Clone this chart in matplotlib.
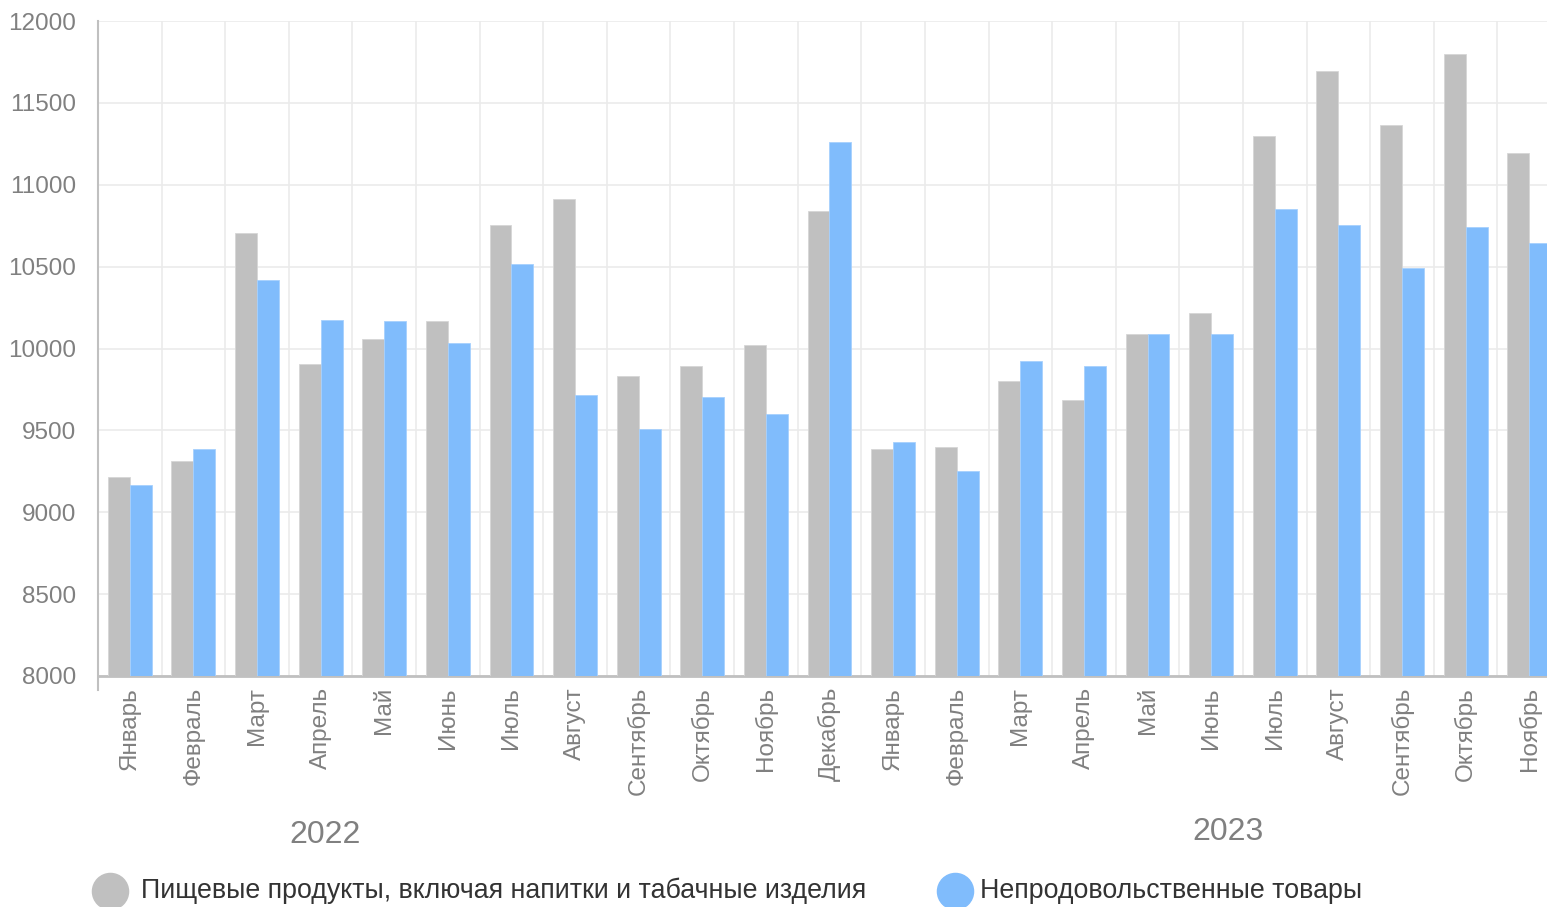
import numpy as np
import matplotlib.pyplot as plt
from matplotlib.lines import Line2D

plt.rcParams['font.family'] = ['Liberation Sans', 'DejaVu Sans']

# Data
months = ['Январь', 'Февраль', 'Март', 'Апрель', 'Май', 'Июнь', 'Июль',
          'Август', 'Сентябрь', 'Октябрь', 'Ноябрь', 'Декабрь',
          'Январь', 'Февраль', 'Март', 'Апрель', 'Май', 'Июнь', 'Июль',
          'Август', 'Сентябрь', 'Октябрь', 'Ноябрь']
years = ['2022', '2023']
food = [9215, 9313, 10705, 9905, 10058, 10168, 10754, 10913, 9832, 9893,
        10021, 10840,
        9386, 9398, 9802, 9686, 10089, 10217, 11298, 11695, 11365, 11798,
        11194]
nonfood = [9166, 9386, 10418, 10174, 10168, 10034, 10516, 9716, 9508, 9704,
           9600, 11261,
           9429, 9252, 9924, 9893, 10089, 10089, 10852, 10754, 10492, 10742,
           10644]
series_names = ['Пищевые продукты, включая напитки и табачные изделия',
                'Непродовольственные товары']

GREY = '#c0c0c0'
BLUE = '#80bcfc'
TICK = '#808080'

fig = plt.figure(figsize=(15.47, 9.07), dpi=100)
ax = fig.add_axes([98 / 1547, 1 - 676 / 907, 1 - 98 / 1547, (676 - 21) / 907])

x = np.arange(len(months))
w = 0.345
ax.bar(x - w / 2, np.array(food) - 8000, w, bottom=8000, color=GREY,
       edgecolor='#d6d6d6', linewidth=0.6, zorder=3)
ax.bar(x + w / 2, np.array(nonfood) - 8000, w, bottom=8000, color=BLUE,
       edgecolor='#a6d0fd', linewidth=0.6, zorder=3)

ax.set_yticks(np.arange(8000, 12001, 500))
ax.set_xticks(x)
ax.set_xticklabels(months, rotation=90, va='top', ha='center')
ax.set_xticks(np.arange(0.5, len(months), 1), minor=True)
# limits after the ticks, so set_xticks does not widen the view
ax.set_ylim(8000, 12000)
ax.set_xlim(-0.5, 22.28)

ax.grid(True, axis='y', color='#ebebeb', linewidth=1.2, zorder=0)
ax.grid(True, axis='x', which='minor', color='#ebebeb', linewidth=1.2, zorder=0)
ax.tick_params(axis='both', which='both', length=0, colors=TICK, labelsize=17.5)
ax.tick_params(axis='x', pad=8)
ax.tick_params(axis='y', pad=16)

for side in ['top', 'right']:
    ax.spines[side].set_visible(False)
ax.spines['bottom'].set_color('#c0c0c0')
ax.spines['bottom'].set_linewidth(2)
ax.spines['left'].set_color('#c0c0c0')
ax.spines['left'].set_linewidth(1.5)
ax.spines['left'].set_bounds(7915, 12000)

# Year group labels
fig.text(325 / 1547, 1 - 835 / 907, years[0], ha='center', va='center',
         fontsize=23, color=TICK)
fig.text(1228 / 1547, 1 - 832 / 907, years[1], ha='center', va='center',
         fontsize=23, color=TICK)

# Legend drawn by hand: circle + label
legend_y = 1 - 891 / 907
for name, color, cx, tx in [(series_names[0], GREY, 110, 141),
                            (series_names[1], BLUE, 955, 980)]:
    fig.add_artist(Line2D([cx / 1547], [legend_y], transform=fig.transFigure,
                          linestyle='none', marker='o', markersize=26,
                          markerfacecolor=color, markeredgecolor=color))
    fig.text(tx / 1547, legend_y, name, ha='left', va='center',
             fontsize=19.3, color='#333333')

fig.savefig('out.png', dpi=100)
